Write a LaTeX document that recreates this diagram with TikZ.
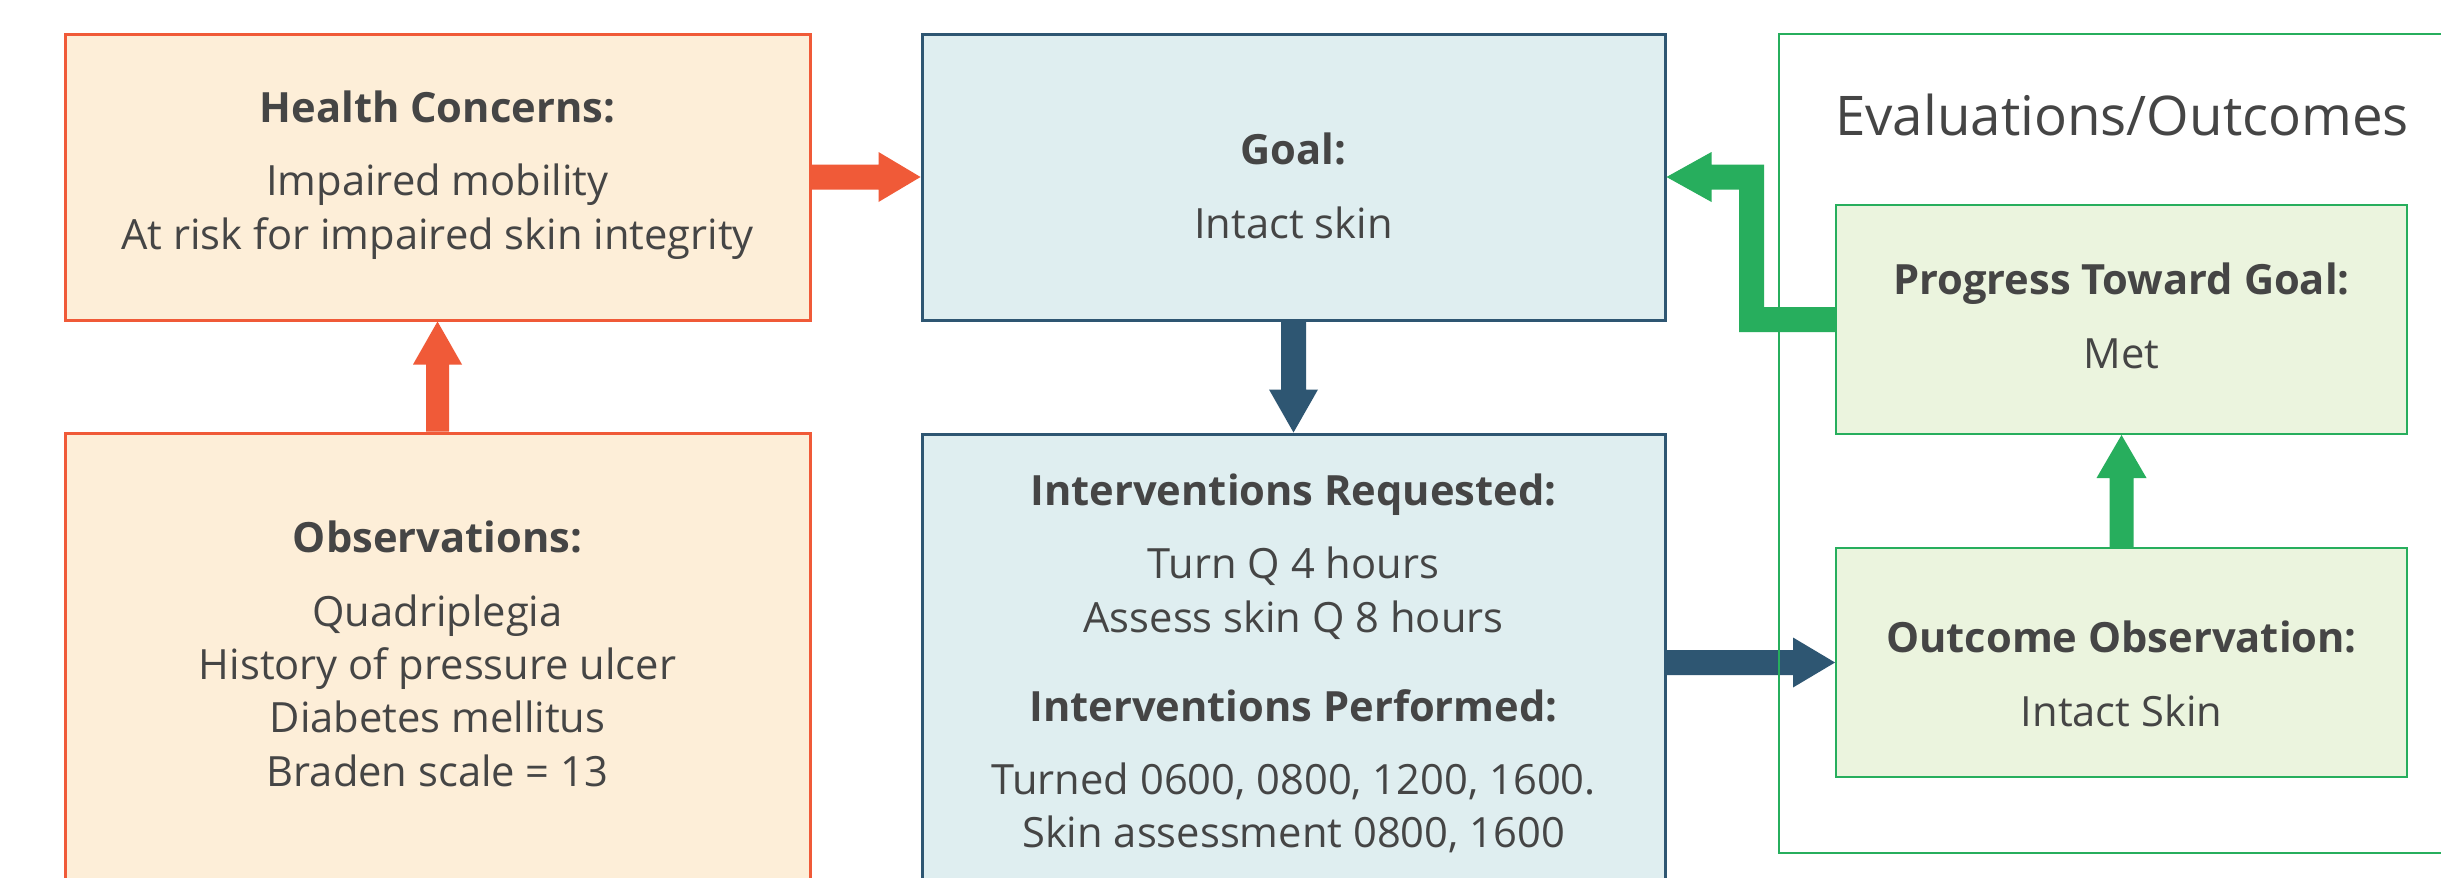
\documentclass[tikz,border=0pt]{standalone}
\usepackage{fontspec}
\setmainfont[Ligatures=NoCommon]{Open Sans}
\usetikzlibrary{calc}
\definecolor{org}{HTML}{F05A38}
\definecolor{orgfill}{HTML}{FDEED8}
\definecolor{blu}{HTML}{2E5672}
\definecolor{blufill}{HTML}{DFEEF0}
\definecolor{grn}{HTML}{27AE5D}
\definecolor{grnfill}{HTML}{EBF4DE}
\definecolor{txt}{HTML}{454545}
\begin{document}
\begin{tikzpicture}[x=0.3pt,y=-0.3pt,
  orgbox/.style={draw=org,fill=orgfill,line width=0.9pt,minimum width=223.5pt,inner sep=0pt},
  blubox/.style={draw=blu,fill=blufill,line width=0.9pt,minimum width=222.9pt,inner sep=0pt},
  grnbox/.style={draw=grn,fill=grnfill,line width=0.6pt,minimum width=171.3pt,minimum height=68.7pt,inner sep=0pt},
  outerbox/.style={draw=grn,line width=0.6pt,minimum width=207.3pt,minimum height=245.7pt,inner sep=0pt},
  label/.style={text=txt,align=center,inner sep=0pt,font=\fontsize{12.5}{16}\selectfont},
  title/.style={text=txt,inner sep=0pt,font=\fontsize{16.4}{19}\selectfont}]
\clip (0,0) rectangle (2441,877);
\fill[white] (0,0) rectangle (2441,877);
% boxes
\node[orgbox,minimum height=85.8pt] (health) at (437.5,177) {};
\node[orgbox,minimum height=155.1pt] (obs) at (437.5,691.5) {};
\node[blubox,minimum height=85.8pt] (goal) at (1293.5,177) {};
\node[blubox,minimum height=154.8pt] (interv) at (1293.5,692) {};
\node[grnbox] (progress) at (2121.5,319.5) {};
\node[grnbox] (outcome) at (2121.5,662.5) {};
% texts
\node[label] at (437.5,175) {\bfseries Health Concerns:\\[6pt]Impaired mobility\\At risk for impaired skin integrity};
\node[label] at (437.5,654) {\bfseries Observations:\\[6pt]Quadriplegia\\History of pressure ulcer\\Diabetes mellitus\\Braden scale = 13};
\node[label] at (1293.5,186) {\bfseries Goal:\\[6pt]Intact skin};
\node[label] at (1293.5,663.5) {\bfseries Interventions Requested:\\[6pt]Turn Q 4 hours\\Assess skin Q 8 hours\\[10.7pt]\bfseries Interventions Performed:\\[6pt]Turned 0600, 0800, 1200, 1600.\\Skin assessment 0800, 1600};
\node[label] at (2121.5,316) {\bfseries Progress Toward Goal:\\[6pt]Met};
\node[label] at (2121.5,674) {\bfseries Outcome Observation:\\[6pt]Intact Skin};
% arrows
% health -> goal
\fill[org] ($(health.east)+(0,-12.5)$) -- ($(goal.west)+(-42,-12.5)$) -- ($(goal.west)+(-42,-25)$) -- (goal.west)
  -- ($(goal.west)+(-42,25)$) -- ($(goal.west)+(-42,12.5)$) -- ($(health.east)+(0,12.5)$) -- cycle;
% obs -> health
\fill[org] ($(obs.north)+(-11.5,0)$) -- ($(health.south)+(-11.5,43)$) -- ($(health.south)+(-24.5,43)$) -- (health.south)
  -- ($(health.south)+(24.5,43)$) -- ($(health.south)+(11.5,43)$) -- ($(obs.north)+(11.5,0)$) -- cycle;
% goal -> interv
\fill[blu] ($(goal.south)+(-12.5,0)$) -- ($(interv.north)+(-12.5,-43)$) -- ($(interv.north)+(-24.5,-43)$) -- (interv.north)
  -- ($(interv.north)+(24.5,-43)$) -- ($(interv.north)+(12.5,-43)$) -- ($(goal.south)+(12.5,0)$) -- cycle;
% interv -> outcome
\coordinate (ia) at (interv.east |- outcome.west);
\fill[blu] ($(ia)+(0,-12.5)$) -- ($(outcome.west)+(-42,-12.5)$) -- ($(outcome.west)+(-42,-25)$) -- (outcome.west)
  -- ($(outcome.west)+(-42,25)$) -- ($(outcome.west)+(-42,12.5)$) -- ($(ia)+(0,12.5)$) -- cycle;
% outcome -> progress
\fill[grn] ($(outcome.north)+(-12,0)$) -- ($(progress.south)+(-12,43)$) -- ($(progress.south)+(-25,43)$) -- (progress.south)
  -- ($(progress.south)+(25,43)$) -- ($(progress.south)+(12,43)$) -- ($(outcome.north)+(12,0)$) -- cycle;
% progress -> goal (elbow)
\coordinate (gk) at ($(goal.east)+(85,0)$);
\coordinate (pk) at (gk |- progress.west);
\fill[grn] ($(progress.west)+(0,-12.5)$) -- ($(pk)+(12.5,-12.5)$) -- ($(gk)+(12.5,-12.5)$) -- ($(goal.east)+(45,-12.5)$)
  -- ($(goal.east)+(45,-25)$) -- (goal.east) -- ($(goal.east)+(45,25)$) -- ($(goal.east)+(45,12.5)$)
  -- ($(gk)+(-12.5,12.5)$) -- ($(pk)+(-12.5,12.5)$) -- ($(progress.west)+(0,12.5)$) -- cycle;
% outer evaluations box
\node[outerbox] (evalbox) at (2124.5,443.5) {};
\node[title] at (2122,115) {Evaluations/Outcomes};
\end{tikzpicture}
\end{document}
